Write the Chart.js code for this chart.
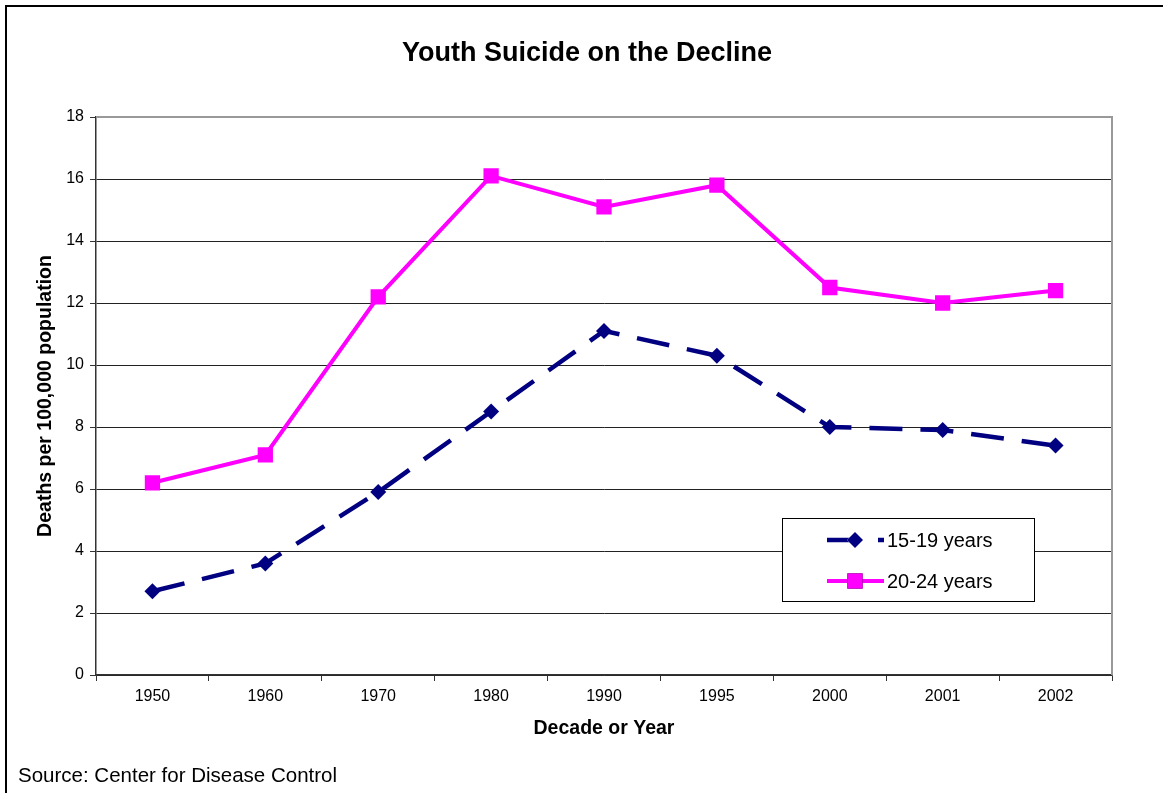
<!DOCTYPE html>
<html lang="en">
<head>
  <meta charset="UTF-8" />
  <title>Youth Suicide on the Decline</title>
  <script src="https://cdn.jsdelivr.net/npm/chart.js"></script>
  <style>
    body {
      margin: 0;
      padding: 0;
      background: #fff;
    }
    #chart {
      display: block;
    }
  </style>
</head>
<body>

<canvas id="chart" width="1163" height="793"></canvas>

<script>
  // data
  const years = ['1950', '1960', '1970', '1980', '1990', '1995', '2000', '2001', '2002'];
  const teens = [2.7, 3.6, 5.9, 8.5, 11.1, 10.3, 8.0, 7.9, 7.4];
  const young = [6.2, 7.1, 12.2, 16.1, 15.1, 15.8, 12.5, 12.0, 12.4];
  const seriesNames = ['15-19 years', '20-24 years'];

  const FONT = "Arial, 'Liberation Sans', sans-serif";

  // frame, plot border, legend box and source line
  const extras = {
    id: 'extras',
    beforeDraw(chart) {
      const c = chart.ctx;
      c.save();
      c.fillStyle = '#fff';
      c.fillRect(0, 0, chart.width, chart.height);
      c.fillStyle = '#000';
      c.fillRect(5, 5, chart.width - 5, 2);
      c.fillRect(5, 5, 2, chart.height - 5);
      c.restore();
    },
    beforeDatasetsDraw(chart) {
      const a = chart.chartArea;
      const c = chart.ctx;
      c.save();
      c.strokeStyle = '#999';
      c.lineWidth = 2;
      c.beginPath();
      c.moveTo(a.left, a.top);
      c.lineTo(a.right, a.top);
      c.lineTo(a.right, a.bottom);
      c.stroke();
      c.restore();
    },
    afterDraw(chart) {
      const c = chart.ctx;
      c.save();
      // legend
      c.fillStyle = '#fff';
      c.fillRect(782, 518, 252, 83);
      c.strokeStyle = '#000';
      c.lineWidth = 1;
      c.strokeRect(782.5, 518.5, 252, 83);
      const rows = [540, 581];
      chart.data.datasets.forEach((ds, i) => {
        const y = rows[i];
        c.strokeStyle = ds.borderColor;
        c.lineWidth = ds.borderWidth;
        c.setLineDash(ds.borderDash || []);
        c.beginPath();
        c.moveTo(827, y);
        c.lineTo(884, y);
        c.stroke();
        c.setLineDash([]);
        Chart.helpers.drawPoint(c, {
          pointStyle: ds.pointStyle,
          radius: ds.pointRadius,
          rotation: 0,
          borderWidth: 0
        }, 855, y);
        c.fillStyle = ds.pointBackgroundColor;
        c.fill();
        c.fillStyle = '#000';
        c.font = '20px ' + FONT;
        c.textBaseline = 'middle';
        c.textAlign = 'left';
        c.fillText(ds.label, 887, y + 1);
      });
      // source
      c.fillStyle = '#000';
      c.font = '20.5px ' + FONT;
      c.textBaseline = 'middle';
      c.fillText('Source: Center for Disease Control', 18, 776);
      c.restore();
    }
  };

  new Chart(document.getElementById('chart'), {
    type: 'line',
    data: {
      labels: years,
      datasets: [
        {
          label: seriesNames[0],
          data: teens,
          borderColor: '#000080',
          backgroundColor: '#000080',
          pointBackgroundColor: '#000080',
          pointBorderWidth: 0,
          borderWidth: 4.5,
          borderDash: [33, 18],
          pointStyle: 'rectRot',
          pointRadius: 8,
          tension: 0
        },
        {
          label: seriesNames[1],
          data: young,
          borderColor: '#ff00ff',
          backgroundColor: '#ff00ff',
          pointBackgroundColor: '#ff00ff',
          pointBorderWidth: 0,
          borderWidth: 4,
          pointStyle: 'rect',
          pointRadius: 10.8,
          tension: 0
        }
      ]
    },
    options: {
      responsive: false,
      animation: false,
      layout: {
        padding: { left: 11, top: 0, right: 0, bottom: 0 }
      },
      plugins: {
        legend: { display: false },
        tooltip: { enabled: false },
        title: {
          display: true,
          text: 'Youth Suicide on the Decline',
          color: '#000',
          font: { family: FONT, size: 27, weight: 'bold' },
          padding: { top: 37.8, bottom: 46.8 }
        }
      },
      scales: {
        x: {
          offset: true,
          afterFit(scale) { scale.height = 118; },
          grid: {
            offset: true,
            drawOnChartArea: false,
            drawTicks: true,
            tickLength: 6,
            color: '#333'
          },
          border: { color: '#333', width: 1.5 },
          ticks: {
            color: '#000',
            padding: 6,
            maxRotation: 0,
            font: { family: FONT, size: 16 }
          },
          title: {
            display: true,
            text: 'Decade or Year',
            color: '#000',
            font: { family: FONT, size: 19.5, weight: 'bold' },
            padding: { top: 0, bottom: 52.3 }
          }
        },
        y: {
          min: 0,
          max: 18,
          afterFit(scale) { scale.width = 85; },
          grid: {
            color: ctx => ctx.tick && ctx.tick.value === 18 ? '#999' : '#222',
            tickColor: '#333',
            tickLength: 6,
            lineWidth: 1
          },
          border: { color: '#333', width: 1.5 },
          ticks: {
            stepSize: 2,
            color: '#000',
            padding: 6,
            font: { family: FONT, size: 16 }
          },
          title: {
            display: true,
            text: 'Deaths per 100,000 population',
            color: '#000',
            font: { family: FONT, size: 19.5, weight: 'bold' },
            padding: { top: 23.3, bottom: 0 }
          }
        },
        // empty right-hand strip so the plot ends where the original does
        side: {
          type: 'linear',
          position: 'right',
          afterFit(scale) { scale.width = 51; },
          grid: { display: false },
          border: { display: false },
          ticks: { display: false }
        }
      }
    },
    plugins: [extras]
  });
</script>

</body>
</html>
